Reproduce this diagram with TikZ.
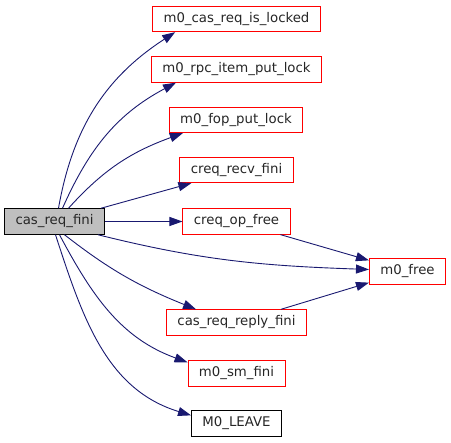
\documentclass[tikz,border=0pt]{standalone}
\usepackage{fontspec}
\newfontfamily\dvsans{DejaVu Sans}
\usepackage{tikz}
\usetikzlibrary{arrows.meta,positioning}
\usepackage{xcolor}
\definecolor{edgeblue}{HTML}{191970}
\definecolor{rootgray}{HTML}{BFBFBF}

\begin{document}
\begin{tikzpicture}[x=1pt, y=-1pt,
  fn/.style={rectangle, draw=red, line width=0.8pt, fill=white,
    minimum height=25.5pt, inner xsep=11pt, inner ysep=0pt,
    font=\dvsans\fontsize{13.3}{16}\selectfont, text=black!85},
  plain/.style={fn, draw=black},
  root/.style={fn, draw=black, fill=rootgray, line width=1pt},
  call/.style={-{Triangle[length=13pt,width=9pt]}, line width=0.9pt, color=edgeblue}
]
\useasboundingbox (0,0) rectangle (451,443);
\node[root]  (cas)  at (54.5,221.5) {cas\_req\_fini};
\node[fn]    (lk)   at (236.5,19)   {m0\_cas\_req\_is\_locked};
\node[fn]    (rpc)  at (236.5,69.5) {m0\_rpc\_item\_put\_lock};
\node[fn]    (fop)  at (236,120)    {m0\_fop\_put\_lock};
\node[fn]    (recv) at (236.5,170)  {creq\_recv\_fini};
\node[fn]    (op)   at (236.5,221.5){creq\_op\_free};
\node[fn]    (free) at (407.5,271.5){m0\_free};
\node[fn]    (rp)   at (236.5,322.5){cas\_req\_reply\_fini};
\node[fn]    (sm)   at (236.5,373.5){m0\_sm\_fini};
\node[plain] (lv)   at (236.5,423.5){M0\_LEAVE};
\draw[call] ([xshift=4pt]cas.north) to[out=80,in=213] ([xshift=23pt]lk.south west);
\draw[call] ([xshift=8pt]cas.north) to[out=66,in=208] ([xshift=25pt]rpc.south west);
\draw[call] ([xshift=14pt]cas.north) to[out=48,in=200] ([xshift=14pt]fop.south west);
\draw[call] ([xshift=-4pt]cas.north east) -- ([xshift=12pt]recv.south west);
\draw[call] (cas) -- (op);
\draw[call] ([xshift=-7pt]cas.south east) to[out=-14,in=178] ([yshift=2pt]free.west);
\draw[call] ([xshift=10pt]cas.south) to[out=-38,in=158] ([xshift=30pt]rp.north west);
\draw[call] ([xshift=5pt]cas.south) to[out=-62,in=160] ([yshift=-2pt]sm.north west);
\draw[call] ([xshift=1pt]cas.south) to[out=-72,in=163] ([yshift=-5pt]lv.north west);
\draw[call] ([xshift=-10pt]op.south east) -- ([yshift=-2pt]free.north west);
\draw[call] ([xshift=-26pt]rp.north east) -- ([yshift=2pt]free.south west);
\end{tikzpicture}
\end{document}
